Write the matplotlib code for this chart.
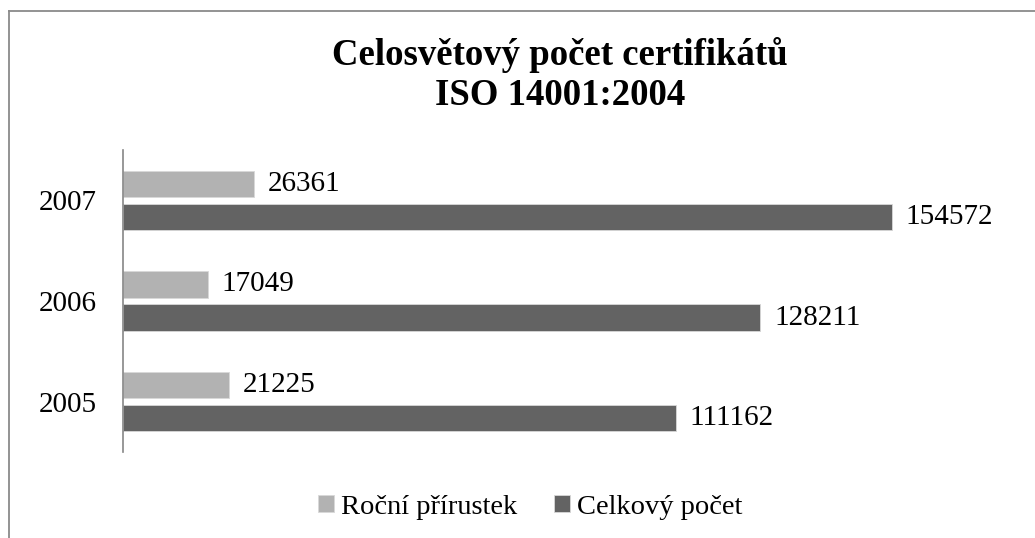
import numpy as np
import matplotlib.pyplot as plt
from matplotlib.lines import Line2D

# data
years = ['2005', '2006', '2007']
rocni = [21225, 17049, 26361]
celkem = [111162, 128211, 154572]
series_names = ['Roční přírustek', 'Celkový počet']
title = 'Celosvětový počet certifikátů\nISO 14001:2004'

plt.rcParams['font.family'] = ['Liberation Serif', 'DejaVu Serif']

fig = plt.figure(figsize=(10.35, 5.38), dpi=100)
ax = fig.add_axes([123/1035, 1-452/538, (1018-123)/1035, (452-150)/538])

y = np.arange(len(years))
h = 0.263
off = 0.164
c_light = '#b2b2b2'
c_dark = '#636363'

b1 = ax.barh(y + off, rocni, height=h, color=c_light, edgecolor='#d8d8d8', linewidth=0.6, label=series_names[0])
b2 = ax.barh(y - off, celkem, height=h, color=c_dark, edgecolor='#d8d8d8', linewidth=0.6, label=series_names[1])

for bars, vals in [(b1, rocni), (b2, celkem)]:
	for r, v in zip(bars, vals):
		ax.annotate(str(v), (r.get_width(), r.get_y() + r.get_height()/2),
			xytext=(10, 0), textcoords='offset points', va='center', ha='left', fontsize=21)

ax.set_xlim(0, 180000)
ax.set_ylim(-0.5, len(years) - 0.5)
ax.set_yticks(y)
ax.set_yticklabels(years, fontsize=21)
ax.tick_params(axis='y', length=0, pad=19)
ax.set_xticks([])
for s in ['top', 'right', 'bottom']:
	ax.spines[s].set_visible(False)
ax.spines['left'].set_color('#868686')
ax.spines['left'].set_linewidth(1.2)

fig.text(560/1035, 1-75/538, title, ha='center', va='center', fontsize=26.5,
	fontweight='bold', linespacing=1.22)

fig.legend(handles=[b1, b2], labels=series_names, loc='center', ncol=2,
	bbox_to_anchor=(530/1035, 1-507/538), frameon=False, fontsize=20.5,
	handlelength=0.55, handleheight=0.55, handletextpad=0.25, columnspacing=1.3)

# outer chart frame (only left and top visible)
fig.add_artist(Line2D([8.5/1035, 8.5/1035], [0, 1-11/538], transform=fig.transFigure, color='#8a8a8a', lw=1.3))
fig.add_artist(Line2D([8.5/1035, 1], [1-11/538, 1-11/538], transform=fig.transFigure, color='#8a8a8a', lw=1.3))

fig.savefig('out.png', dpi=100)
